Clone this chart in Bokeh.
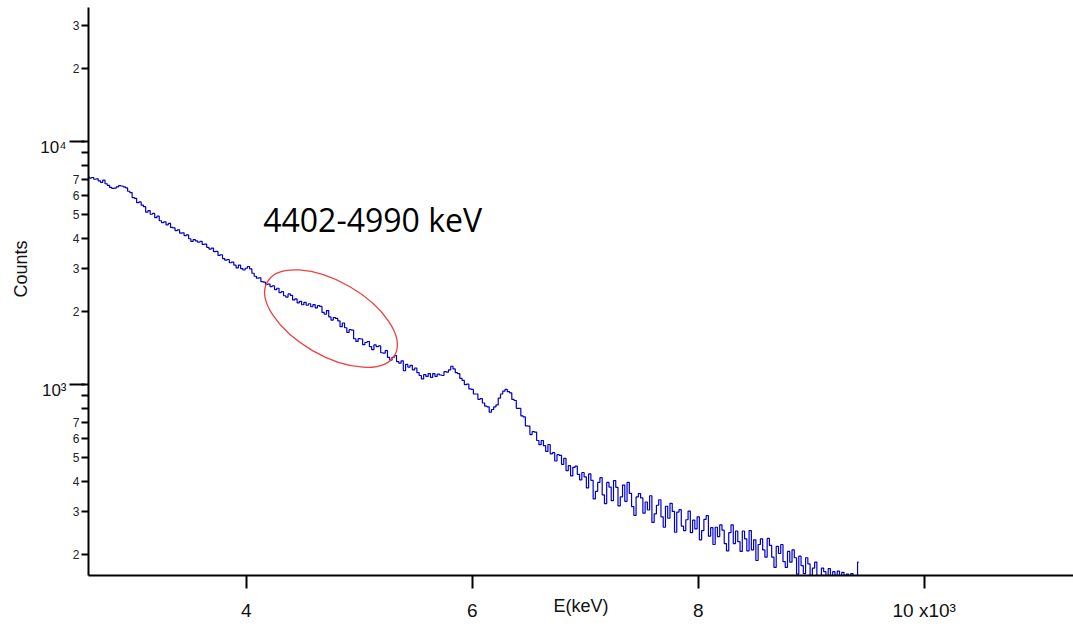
import numpy as np
from math import pi
from bokeh.plotting import figure
from bokeh.models import FixedTicker, Label, Range1d, LogAxis, Title
from bokeh.embed import file_html
from bokeh.resources import INLINE

# ---- data ----
energy_start = 2600   # keV, first channel centre
energy_step = 20      # keV per channel
counts = [
    7150, 7060, 7110, 6990, 7020, 6880, 6790, 6930, 6700, 6600,
    6470, 6410, 6430, 6500, 6580, 6560, 6510, 6440, 6240, 6160,
    5880, 5830, 5600, 5640, 5470, 5390, 5120, 5190, 5020, 5060,
    4860, 4930, 4720, 4640, 4670, 4540, 4600, 4430, 4410, 4300,
    4330, 4200, 4210, 4100, 4130, 3980, 3880, 3950, 3900, 3850,
    3880, 3770, 3780, 3670, 3610, 3640, 3520, 3530, 3400, 3420,
    3300, 3250, 3270, 3170, 3190, 3100, 3020, 3100, 3000, 2960,
    3010, 3060, 2990, 2870, 2790, 2740, 2750, 2650, 2640, 2580,
    2590, 2530, 2550, 2460, 2490, 2390, 2410, 2320, 2290, 2360,
    2330, 2230, 2250, 2170, 2200, 2130, 2180, 2120, 2150, 2090,
    2134, 2069, 2111, 2096, 1980, 1947, 2015, 1898, 1843, 1886,
    1871, 1828, 1731, 1792, 1713, 1639, 1683, 1676, 1544, 1505,
    1545, 1540, 1460, 1490, 1504, 1433, 1392, 1456, 1434, 1442,
    1352, 1346, 1380, 1294, 1261, 1295, 1316, 1244, 1225, 1252,
    1140, 1210, 1180, 1200, 1150, 1170, 1120, 1090, 1055, 1100,
    1080, 1110, 1070, 1110, 1080, 1105, 1095, 1090, 1130, 1125,
    1150, 1190, 1160, 1120, 1110, 1060, 1040, 1000, 1005, 960,
    955, 915, 915, 870, 875, 840, 815, 810, 770, 790,
    810, 825, 880, 915, 940, 955, 935, 925, 870, 860,
    799, 798, 743, 737, 676, 675, 623, 641, 638, 589,
    566, 589, 561, 531, 567, 519, 525, 485, 515, 512,
    470, 497, 443, 464, 421, 457, 462, 427, 406, 435,
    417, 376, 429, 404, 339, 364, 396, 414, 352, 324,
    396, 379, 333, 403, 378, 317, 345, 386, 331, 396,
    357, 315, 290, 345, 356, 342, 296, 329, 305, 349,
    271, 294, 319, 336, 286, 259, 316, 282, 325, 301,
    247, 299, 306, 262, 251, 278, 302, 246, 277, 255,
    286, 230, 251, 279, 289, 238, 258, 220, 259, 237,
    265, 252, 222, 207, 246, 265, 222, 250, 226, 206,
    250, 232, 207, 251, 209, 230, 189, 220, 232, 209,
    195, 233, 218, 195, 177, 216, 202, 220, 187, 177,
    206, 186, 209, 194, 166, 197, 180, 167, 194, 183,
    158, 176, 186, 164, 160, 176, 170, 162, 175, 157,
    170, 163, 171, 156, 169, 157, 166, 159, 167, 159,
    161, 186,
]
energy = energy_start + energy_step * np.arange(len(counts))

x_ticks = [4000, 6000, 8000, 10000]
x_tick_labels = ["4", "6", "8", "10 x10\u00b3"]
y_decades = [1000, 10000]
y_decade_labels = ["10\u00b3", "10\u2074"]
y_decade_label_pos = [945, 9450]      # decade labels sit just below their tick
y_label_ticks = [200, 300, 400, 500, 600, 700,
                 2000, 3000, 4000, 5000, 6000, 7000,
                 20000, 30000]
y_label_text = ["2", "3", "4", "5", "6", "7",
                "2", "3", "4", "5", "6", "7",
                "2", "3"]
y_unlabeled_ticks = [800, 900, 8000, 9000]

annotation_text = "4402-4990 keV"
annotation_pos = (4150, 4770)
highlight_center = (4750, 1869)

x_lo, x_hi = 2604, 11321
y_lo, y_hi = 164, 35560

FONT = "Liberation Sans"

p = figure(width=1073, height=633, y_axis_type="log",
           x_range=Range1d(x_lo, x_hi), y_range=Range1d(y_lo, y_hi),
           output_backend="svg", toolbar_location=None,
           min_border_left=88, min_border_right=0,
           min_border_top=7, min_border_bottom=58)
p.outline_line_color = None
p.grid.visible = False
p.background_fill_color = "white"

# ---- x axis ----
xa = p.xaxis[0]
xa.ticker = FixedTicker(ticks=x_ticks)
xa.major_label_overrides = {t: l for t, l in zip(x_ticks, x_tick_labels)}
xa.axis_line_width = 2
xa.axis_line_color = "black"
xa.major_tick_line_width = 2
xa.major_tick_out = 13
xa.major_tick_in = 0
xa.minor_tick_out = 0
xa.minor_tick_in = 0
xa.major_label_text_font = FONT
xa.major_label_text_font_size = "19px"
xa.major_label_text_color = "#111111"
xa.major_label_standoff = 11
xa.axis_label = "E(keV)"
xa.axis_label_text_font = FONT
xa.axis_label_text_font_size = "18px"
xa.axis_label_text_font_style = "normal"
xa.axis_label_text_color = "#111111"
xa.axis_label_standoff = -28

# ---- inner y axis: small labels 2..7 ----
ya = p.yaxis[0]
ya.ticker = FixedTicker(ticks=y_label_ticks + y_decades,
                        minor_ticks=y_unlabeled_ticks)
ov = {t: l for t, l in zip(y_label_ticks, y_label_text)}
ov.update({t: "" for t in y_decades})
ya.major_label_overrides = ov
ya.axis_line_width = 2
ya.axis_line_color = "black"
ya.major_tick_line_width = 2
ya.minor_tick_line_width = 2
ya.major_tick_out = 7
ya.major_tick_in = 0
ya.minor_tick_out = 7
ya.minor_tick_in = 0
ya.major_label_text_font = FONT
ya.major_label_text_font_size = "12px"
ya.major_label_text_color = "#222222"
ya.major_label_standoff = 2

# ---- middle y axis: long decade ticks ----
yb = LogAxis(ticker=FixedTicker(ticks=y_decades, minor_ticks=[]),
             major_label_overrides={t: "" for t in y_decades})
yb.axis_line_color = None
yb.major_tick_out = 0
yb.major_tick_in = 15
yb.major_tick_line_width = 2
yb.major_tick_line_color = "black"
yb.minor_tick_out = 0
yb.minor_tick_in = 0
yb.major_label_standoff = 0
yb.major_label_text_font_size = "1px"
p.add_layout(yb, "left")

# ---- outer y axis: decade labels ----
yc = LogAxis(ticker=FixedTicker(ticks=y_decade_label_pos, minor_ticks=[]),
             major_label_overrides={t: l for t, l in zip(y_decade_label_pos, y_decade_labels)})
yc.axis_line_color = None
yc.major_tick_line_color = None
yc.major_tick_out = 0
yc.major_tick_in = 0
yc.minor_tick_out = 0
yc.minor_tick_in = 0
yc.major_label_text_font = FONT
yc.major_label_text_font_size = "17px"
yc.major_label_text_color = "#111111"
yc.major_label_standoff = 3
p.add_layout(yc, "left")

# ---- y title ----
p.add_layout(Title(text="Counts", align="right", offset=233, standoff=13,
                   text_font=FONT, text_font_size="18px", text_font_style="normal",
                   text_color="#111111"), "left")

# ---- spectrum ----
p.step(energy, counts, mode="center", line_color="#0000c8", line_width=1.2)

# ---- highlight ellipse ----
p.ellipse(x=[highlight_center[0]], y=[highlight_center[1]], width=147, height=74,
          width_units="screen", height_units="screen", angle=-pi / 6,
          fill_alpha=0, line_color="#f04040", line_width=1.3)

# ---- annotation ----
p.add_layout(Label(x=annotation_pos[0], y=annotation_pos[1], text=annotation_text,
                   text_align="left", text_baseline="alphabetic",
                   text_font="Open Sans", text_font_size="32px", text_color="black"))

open("out.html", "w").write(file_html(p, INLINE))
